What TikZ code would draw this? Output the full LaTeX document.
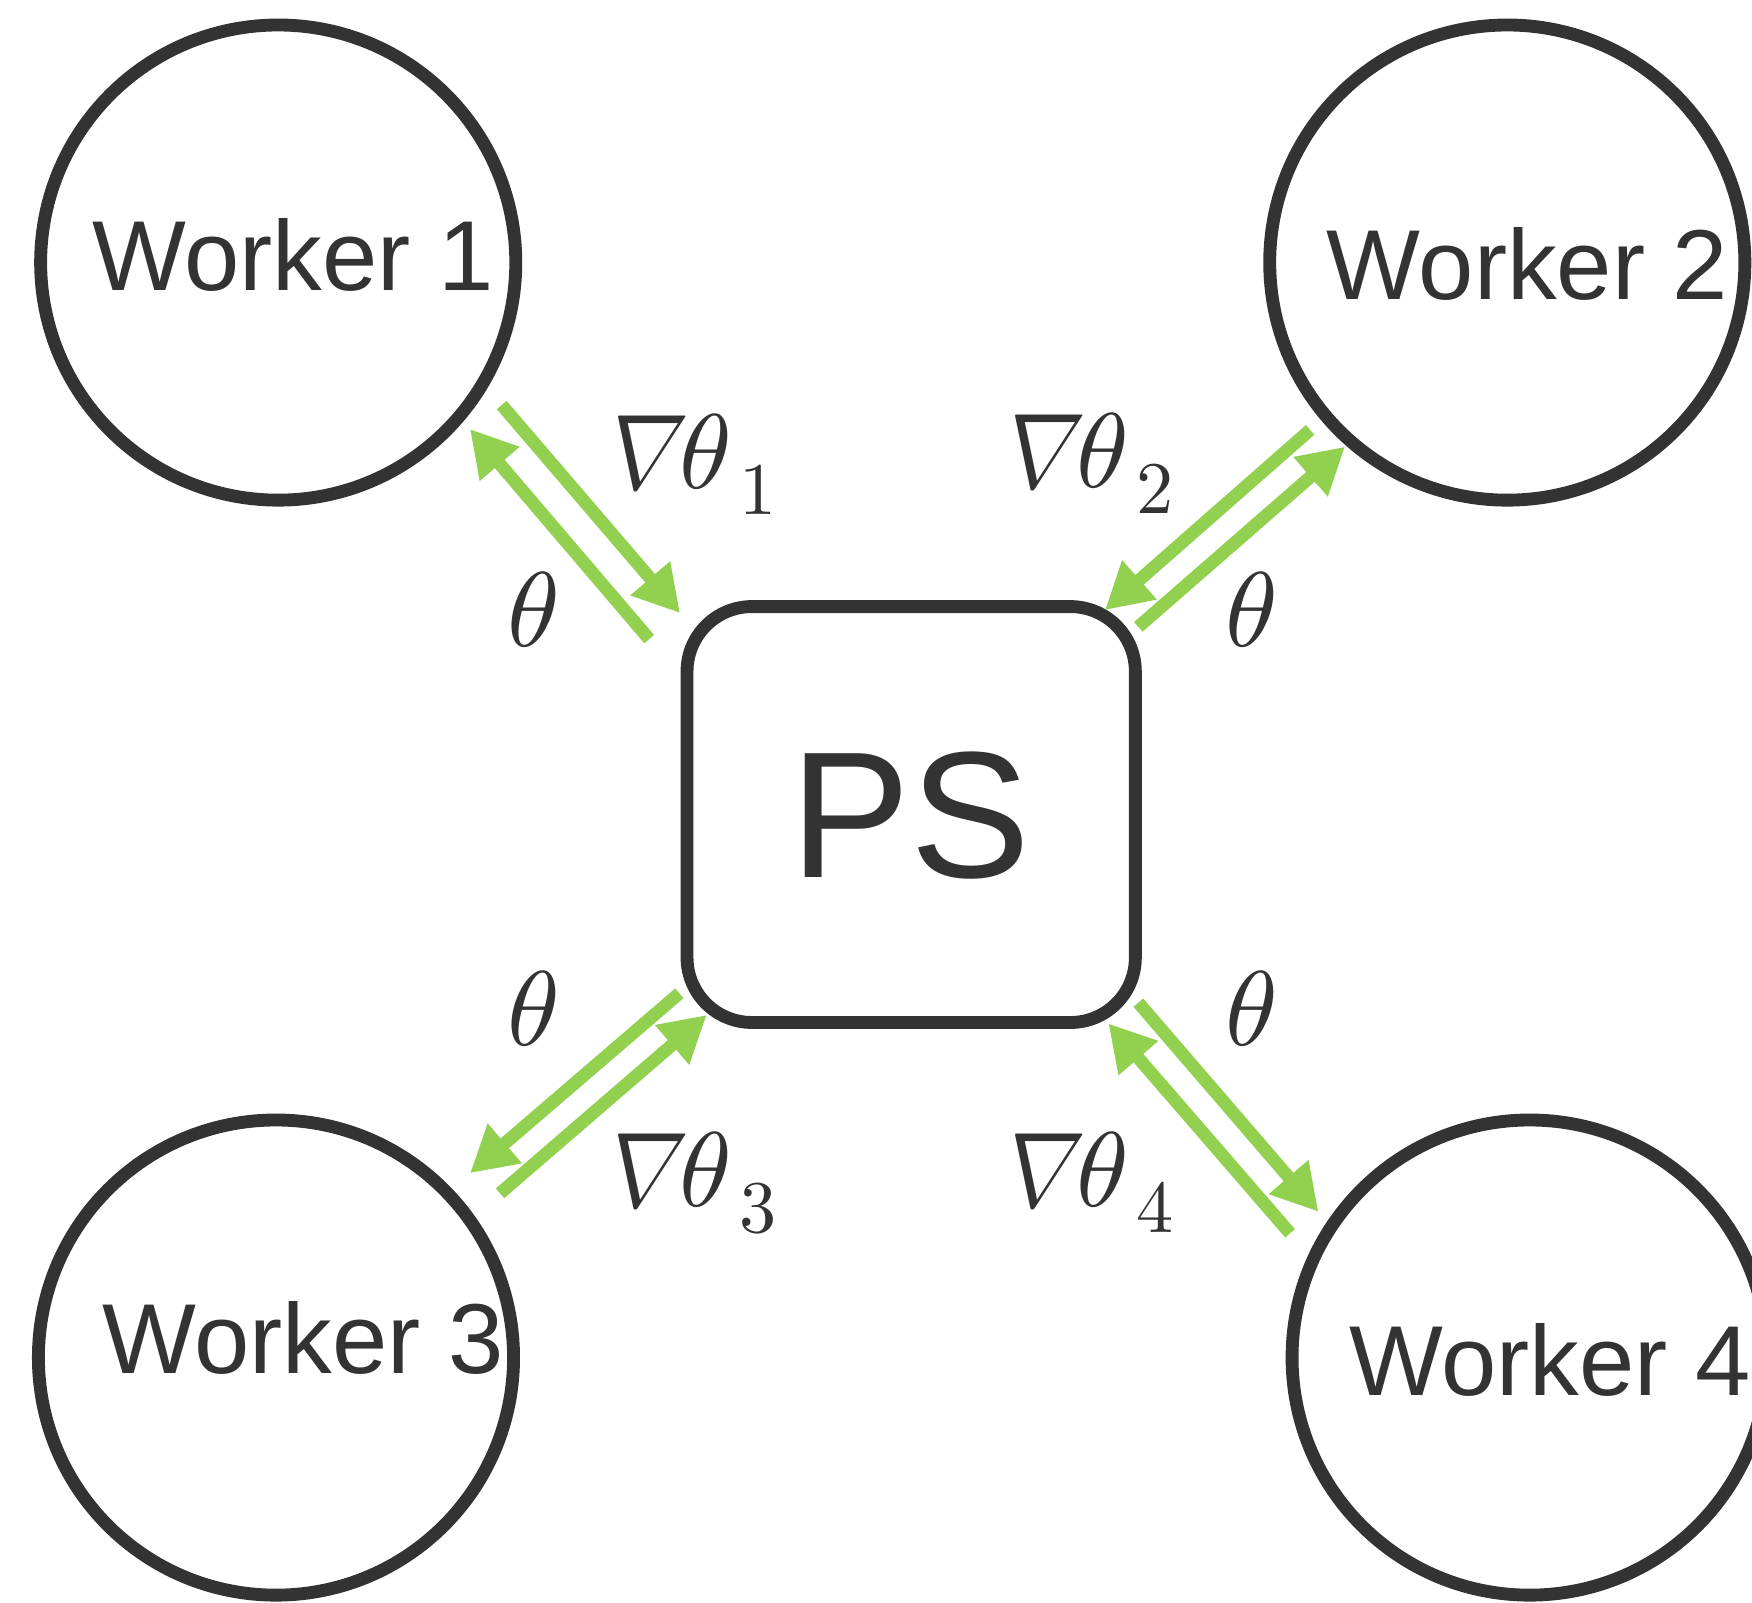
\documentclass[tikz,border=0pt]{standalone}
\usepackage{unicode-math}
\setmainfont{Liberation Sans}
\setmathfont{Latin Modern Math}
% slanted, slightly narrowed nabla for the gradient labels
\newfontfamily\nablafont[FakeSlant=0.22, FakeStretch=0.86]{Latin Modern Math}
\usetikzlibrary{arrows.meta}

\definecolor{ink}{HTML}{333333}
\definecolor{flowgreen}{HTML}{92D050}

\tikzset{
  worker/.style={circle, draw=ink, line width=0.115cm, minimum size=4.25cm, inner sep=0pt},
  wlabel/.style={text=ink, inner sep=0pt, anchor=base, font=\fontsize{25.3}{30}\selectfont},
  server/.style={draw=ink, line width=0.115cm, rounded corners=0.58cm, minimum width=4.01cm,
                 minimum height=3.72cm, inner sep=0pt},
  slabel/.style={text=ink, inner sep=0pt, anchor=base, font=\fontsize{45.8}{52}\selectfont},
  flow/.style={draw=flowgreen, line width=0.115cm,
               -{Triangle[length=0.41cm,width=0.44cm]}},
  mlabel/.style={text=ink, inner sep=0pt, font=\fontsize{27}{32}\selectfont},
}

\newcommand{\gradlabel}[1]{{\nablafont ∇}\kern0.05em$\theta_{\mkern2.5mu#1}$}

\begin{document}
\begin{tikzpicture}[x=0.01cm, y=-0.01cm]
  \useasboundingbox (0,0) rectangle (1568,1434);
  \clip (0,0) rectangle (1568,1434);

  % parameter server and the four workers
  \node[server] (ps) at (815.5,729) {};
  \node[slabel] (pstext) at (815,785) {PS};

  \node[worker] (w1) at (249,235) {};
  \node[worker] (w2) at (1349,235) {};
  \node[worker] (w3) at (247,1215) {};
  \node[worker] (w4) at (1369,1215) {};

  \node[wlabel] (w1text) at (262,260) {Worker 1};
  \node[wlabel] (w2text) at (1367,268) {Worker 2};
  \node[wlabel] (w3text) at (271,1229) {Worker 3};
  \node[wlabel] (w4text) at (1387,1249) {Worker 4};

  % arrow end points: gradients go up to the server, parameters go back down
  \coordinate (g1s) at (449,362.5);   \coordinate (g1e) at (608.6,548.7);
  \coordinate (t1s) at (581,572);     \coordinate (t1e) at (420.6,384);
  \coordinate (g2s) at (1172.5,384.8);\coordinate (g2e) at (989,546);
  \coordinate (t2s) at (1018.8,561);  \coordinate (t2e) at (1203.8,399.8);
  \coordinate (t3s) at (608,889);     \coordinate (t3e) at (420.7,1050);
  \coordinate (g3s) at (447.5,1068);  \coordinate (g3e) at (632.5,908.4);
  \coordinate (t4s) at (1018.8,897.4);\coordinate (t4e) at (1180,1084.5);
  \coordinate (g4s) at (1154.6,1103.8);\coordinate (g4e) at (992,916);

  \draw[flow] (g1s) -- (g1e);
  \draw[flow] (t1s) -- (t1e);
  \draw[flow] (g2s) -- (g2e);
  \draw[flow] (t2s) -- (t2e);
  \draw[flow] (t3s) -- (t3e);
  \draw[flow] (g3s) -- (g3e);
  \draw[flow] (t4s) -- (t4e);
  \draw[flow] (g4s) -- (g4e);

  % labels on the arrows
  \node[mlabel, anchor=base west] (lg1) at (535,437) {\gradlabel{1}};
  \node[mlabel, anchor=base west] (lg2) at (890,436) {\gradlabel{2}};
  \node[mlabel, anchor=base west] (lg3) at (535,1080) {\gradlabel{3}};
  \node[mlabel, anchor=base west] (lg4) at (890,1080) {\gradlabel{4}};

  \node[mlabel] (lt1) at (477,546) {$\theta$};
  \node[mlabel] (lt2) at (1120,546) {$\theta$};
  \node[mlabel] (lt3) at (477,903) {$\theta$};
  \node[mlabel] (lt4) at (1120,903) {$\theta$};
\end{tikzpicture}
\end{document}
